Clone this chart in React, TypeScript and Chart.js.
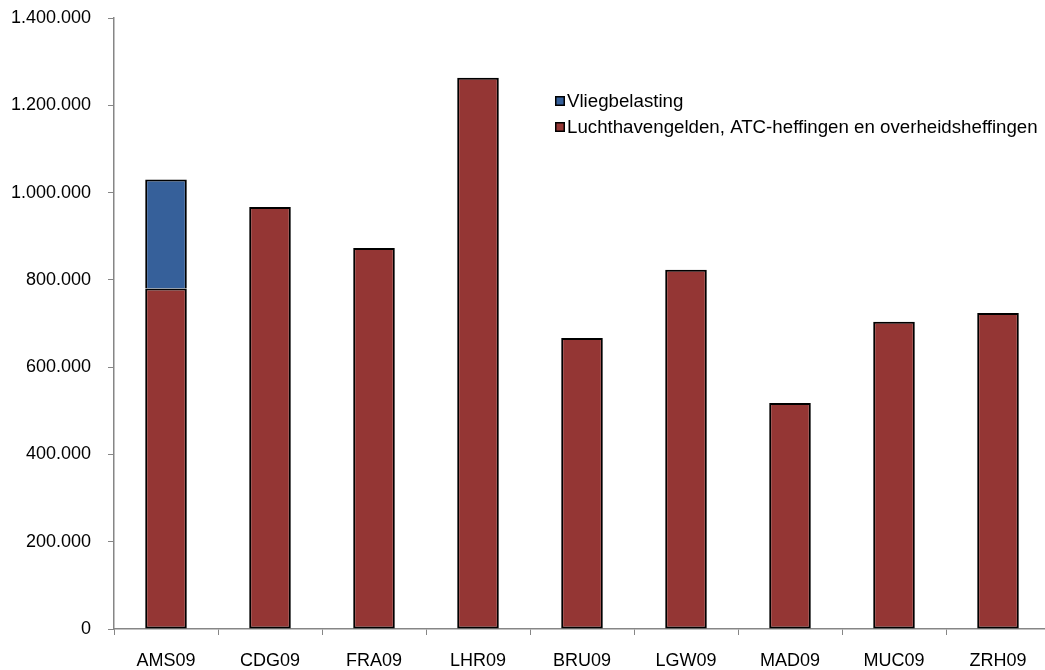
import React, { useEffect, useRef } from "react";
import { Chart, registerables } from "chart.js";

Chart.register(...registerables);

const categories = ["AMS09", "CDG09", "FRA09", "LHR09", "BRU09", "LGW09", "MAD09", "MUC09", "ZRH09"];
const heffingen = [780000, 967000, 873000, 1263000, 667000, 823000, 518000, 704000, 724000];
const vliegbelasting = [250000, 0, 0, 0, 0, 0, 0, 0, 0];
const seriesLabels = ["Vliegbelasting", "Luchthavengelden, ATC-heffingen en overheidsheffingen"];
const seriesColors = ["#36609a", "#943634"];

const FONT = "Arial, 'Liberation Sans', sans-serif";
const FS = 18;

const legendPlugin = {
  id: "innerLegend",
  afterDraw(chart: any) {
    const ctx = chart.ctx;
    const x0 = 555;
    const rows = [101, 127];
    ctx.save();
    ctx.font = `18.7px ${FONT}`;
    ctx.textBaseline = "middle";
    seriesLabels.forEach((lab, i) => {
      const y = rows[i];
      ctx.fillStyle = seriesColors[i];
      ctx.fillRect(x0, y - 5, 10, 10);
      ctx.strokeStyle = "#000";
      ctx.lineWidth = 1.5;
      ctx.strokeRect(x0 + 0.75, y - 4.25, 8.5, 8.5);
      ctx.fillStyle = "#000";
      ctx.fillText(lab, x0 + 12, y + 1);
    });
    ctx.restore();
  },
};

export default function App() {
  const ref = useRef<HTMLCanvasElement>(null);
  useEffect(() => {
    const chart = new Chart(ref.current!, {
      type: "bar",
      data: {
        labels: categories,
        datasets: [
          {
            label: seriesLabels[1],
            data: heffingen.map((v) => (v ? v : null)),
            backgroundColor: seriesColors[1],
            borderColor: "#000",
            borderWidth: 2,
            borderSkipped: false,
            barPercentage: 0.4,
            categoryPercentage: 1,
          },
          {
            label: seriesLabels[0],
            data: vliegbelasting.map((v) => (v ? v : null)),
            backgroundColor: seriesColors[0],
            borderColor: "#000",
            borderWidth: 2,
            borderSkipped: "bottom",
            barPercentage: 0.4,
            categoryPercentage: 1,
          },
        ],
      },
      options: {
        animation: false,
        responsive: false,
        layout: { padding: { top: 18, left: 0, right: 0, bottom: 0 } },
        plugins: { legend: { display: false }, tooltip: { enabled: false } },
        scales: {
          x: {
            stacked: true,
            border: { color: "#868686", width: 1.5 },
            grid: { display: true, drawOnChartArea: false, drawTicks: true, tickLength: 6, color: "#868686", offset: true },
            ticks: { color: "#000", font: { family: FONT, size: FS }, padding: 15, maxRotation: 0 },
            afterFit(scale: any) {
              scale.height = 41;
            },
          },
          y: {
            stacked: true,
            min: 0,
            max: 1400000,
            border: { color: "#868686", width: 1.5 },
            grid: { display: true, drawOnChartArea: false, drawTicks: true, tickLength: 6, color: "#868686" },
            ticks: {
              stepSize: 200000,
              color: "#000",
              font: { family: FONT, size: FS },
              padding: 17,
              callback: (v: any) => Number(v).toLocaleString("de-DE"),
            },
            afterFit(scale: any) {
              scale.width = 114;
              scale.paddingTop = 0;
              scale.paddingBottom = 0;
            },
          },
        },
      },
      plugins: [legendPlugin],
    });
    return () => chart.destroy();
  }, []);
  return (
    <div style={{ position: "fixed", left: 0, top: 0, width: 1045, height: 670, overflow: "hidden", background: "#fff" }}>
      <canvas ref={ref} width={1050} height={670} style={{ display: "block" }} />
    </div>
  );
}
